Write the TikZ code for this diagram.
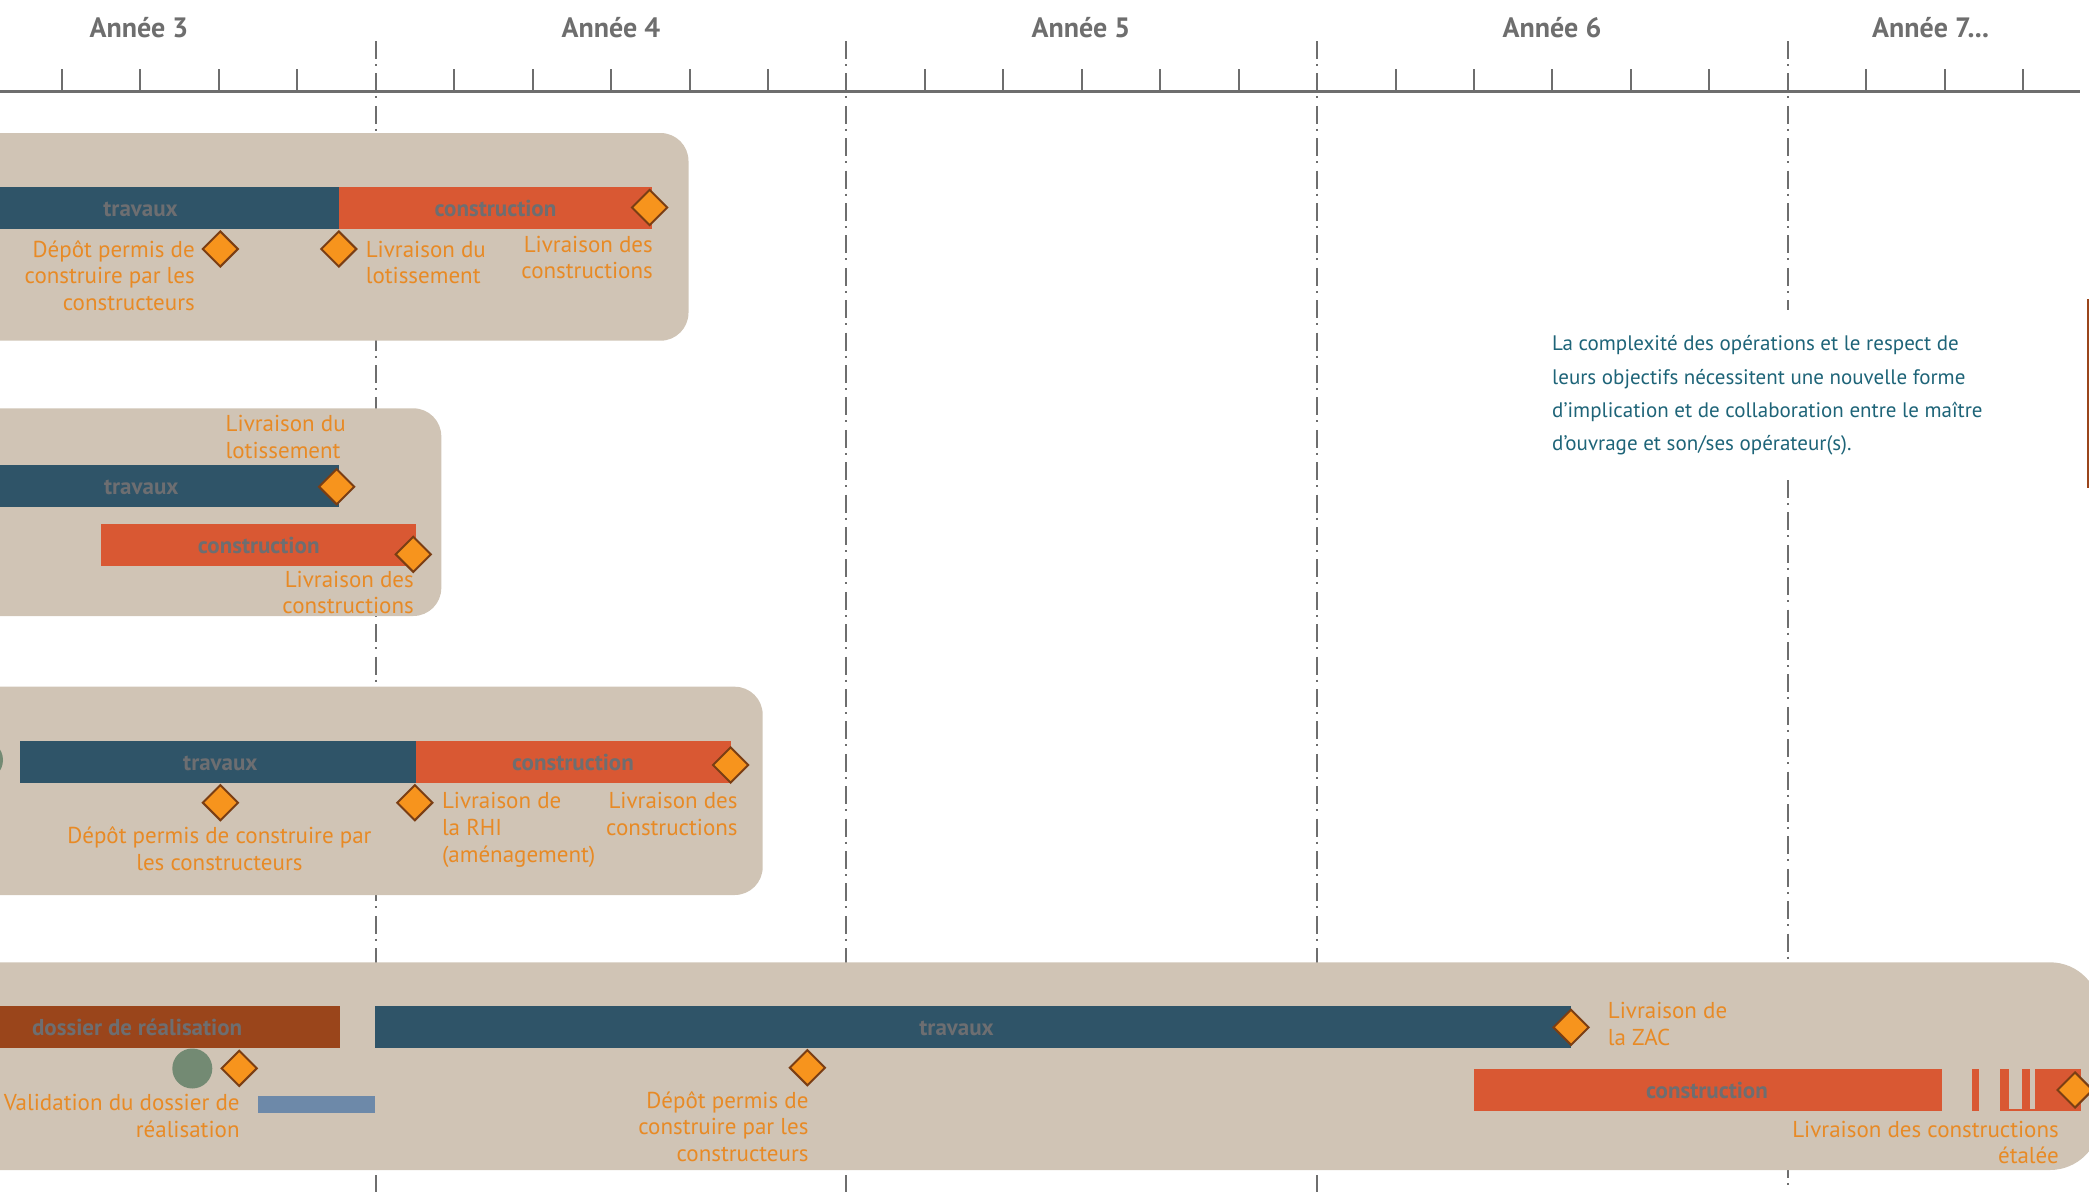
\documentclass[tikz,border=0pt]{standalone}
\usepackage{fontspec}
\setmainfont{PT Sans}
\usetikzlibrary{shapes.geometric}
\definecolor{beige}{RGB}{208,196,181}
\definecolor{navy}{RGB}{47,84,104}
\definecolor{brick}{RGB}{217,88,51}
\definecolor{rust}{RGB}{154,69,27}
\definecolor{gold}{RGB}{247,148,29}
\definecolor{goldedge}{RGB}{122,62,20}
\definecolor{labelor}{RGB}{232,138,37}
\definecolor{bartext}{RGB}{109,110,113}
\definecolor{axisgray}{RGB}{110,110,110}
\definecolor{sage}{RGB}{115,138,115}
\definecolor{steel}{RGB}{109,137,169}
\definecolor{tealtext}{RGB}{30,100,120}
\begin{document}
\begin{tikzpicture}[x=1pt,y=-1pt,
  panel/.style={fill=beige, rounded corners=28pt},
  dashdot/.style={draw=axisgray, line width=2pt, dash pattern=on 18pt off 5pt on 2pt off 7.4pt},
  tickline/.style={draw=axisgray, line width=2pt},
  year/.style={text=axisgray, font=\fontsize{28}{30}\selectfont\bfseries, inner sep=0pt},
  lbl/.style={text=labelor, font=\fontsize{23}{26.7}\selectfont, inner sep=0pt},
  bartxt/.style={text=bartext, font=\fontsize{23}{26}\selectfont\bfseries, inner sep=0pt, anchor=base},
  milestone/.style={shape=diamond, fill=gold, draw=goldedge, line width=2pt, minimum width=36pt, minimum height=36pt, inner sep=0pt},
  dot/.style={circle, fill=sage, minimum size=40pt, inner sep=0pt}
]
\useasboundingbox (0,0) rectangle (2089,1192);
\clip (0,0) rectangle (2089,1192);

% vertical year separators
\draw[dashdot] (375.7,41) -- (375.7,1192);
\draw[dashdot] (846.4,41) -- (846.4,1192);
\draw[dashdot] (1317.1,41) -- (1317.1,1192);
\draw[dashdot] (1787.8,41) -- (1787.8,310);
\draw[dashdot] (1787.8,480) -- (1787.8,1192);

% axis and ticks
\draw[draw=axisgray, line width=3pt] (0,91.5) -- (2080,91.5);
\foreach \k in {-4,-3,-2,-1,1,2,3,4,5,7,8,9,10,11,13,14,15,16,17,19,20,21}
  \draw[tickline] ({375.7+78.45*\k},69) -- ({375.7+78.45*\k},91);

% year labels
\node[year, anchor=base] (y3) at (139,37.5) {Année 3};
\node[year, anchor=base] (y4) at (611,37.5) {Année 4};
\node[year, anchor=base] (y5) at (1081,37.5) {Année 5};
\node[year, anchor=base] (y6) at (1552,37.5) {Année 6};
\node[year, anchor=base west] (y7) at (1872,37.5) {Année 7...};

% panels
\fill[panel] (-60,133) rectangle (688.5,340.7);
\fill[panel] (-60,408.3) rectangle (441.3,616);
\fill[panel] (-60,686.7) rectangle (762.7,895);
\fill[panel, rounded corners=50pt] (-60,962.3) rectangle (2100,1170);

% ---- panel 1
\fill[navy] (-10,187) rectangle (338.8,228.7);
\fill[brick] (338.8,187) rectangle (651.6,228.7);
\node[bartxt] (p1t) at (140.6,216.5) {travaux};
\node[bartxt] (p1c) at (495.5,216.5) {construction};
\node[milestone] (p1d1) at (649.6,207.5) {};
\node[milestone] (p1d2) at (220.3,249) {};
\node[milestone] (p1d3) at (338.8,249) {};
\node[lbl, align=right, anchor=base east] (p1l1) at (195,310.4) {Dépôt permis de\\construire par les\\constructeurs};
\node[lbl, align=left, anchor=base west] (p1l2) at (365.6,283.7) {Livraison du\\lotissement};
\node[lbl, align=right, anchor=base east] (p1l3) at (653,278.7) {Livraison des\\constructions};

% ---- panel 2
\fill[navy] (-10,465) rectangle (339.3,506.7);
\node[bartxt] (p2t) at (141.3,494.5) {travaux};
\node[milestone] (p2d1) at (336.7,486.7) {};
\node[lbl, align=left, anchor=base west] (p2l1) at (225.5,458) {Livraison du\\lotissement};
\fill[brick] (101,524) rectangle (415.8,565.7);
\node[bartxt] (p2c) at (258.7,553.5) {construction};
\node[milestone] (p2d2) at (413.3,554.3) {};
\node[lbl, align=right, anchor=base east] (p2l2) at (414,613.7) {Livraison des\\constructions};

% ---- panel 3
\node[dot] (p3g) at (-17,760) {};
\fill[navy] (19.9,741) rectangle (415.8,782.7);
\fill[brick] (415.8,741) rectangle (730.6,782.7);
\node[bartxt] (p3t) at (220.4,770) {travaux};
\node[bartxt] (p3c) at (573,770) {construction};
\node[milestone] (p3d1) at (730.6,765) {};
\node[milestone] (p3d2) at (220.4,802.7) {};
\node[milestone] (p3d3) at (414.8,802.7) {};
\node[lbl, align=center, anchor=base] (p3l1) at (219.4,870.4) {Dépôt permis de construire par\\les constructeurs};
\node[lbl, align=left, anchor=base west] (p3l2) at (441.8,862.1) {Livraison de\\la RHI\\(aménagement)};
\node[lbl, align=right, anchor=base east] (p3l3) at (737.8,835.4) {Livraison des\\constructions};

% ---- panel 4
\fill[rust] (-10,1006) rectangle (340,1047.7);
\node[bartxt, anchor=base west] (p4dr) at (31.9,1035) {dossier de réalisation};
\fill[navy] (375,1006) rectangle (1571,1047.7);
\node[bartxt] (p4t) at (956.6,1035.5) {travaux};
\node[milestone] (p4d1) at (1571,1027.3) {};
\node[lbl, align=left, anchor=base west] (p4l1) at (1607.7,1045.4) {Livraison de\\la ZAC};
\node[dot] (p4g) at (192.3,1068.5) {};
\node[milestone] (p4d2) at (239.2,1068.3) {};
\node[lbl, align=right, anchor=base east] (p4l2) at (239.8,1137) {Validation du dossier de\\réalisation};
\fill[steel] (258.3,1096) rectangle (375,1112.7);
\node[milestone] (p4d3) at (807.4,1067.7) {};
\node[lbl, align=right, anchor=base east] (p4l3) at (808.7,1161.4) {Dépôt permis de\\construire par les\\constructeurs};
\fill[brick] (1473.7,1069) rectangle (1941.7,1110.7);
\node[bartxt] (p4c) at (1707,1098.5) {construction};
\fill[brick] (1972,1069) rectangle (1979,1111);
\fill[brick] (2000,1069) rectangle (2009,1111);
\fill[brick] (2009,1109.3) rectangle (2022,1111);
\fill[brick] (2022,1069) rectangle (2030,1111);
\fill[brick] (2030,1109.3) rectangle (2035,1111);
\fill[brick] (2035,1069) rectangle (2081,1111);
\node[milestone] (p4d4) at (2075,1090) {};
\node[lbl, align=right, anchor=base east] (p4l4) at (2059,1163.7) {Livraison des constructions\\étalée};

% text block
\node[text=tealtext, font=\fontsize{21}{33.4}\selectfont, inner sep=0pt, align=left, anchor=base west] (note) at (1552,450.9)
  {La complexité des opérations et le respect de\\leurs objectifs nécessitent une nouvelle forme\\d’implication et de collaboration entre le maître\\d’ouvrage et son/ses opérateur(s).};

% right edge rule
\draw[rust, line width=1.5pt] (2088,299) -- (2088,488);
\end{tikzpicture}
\end{document}
